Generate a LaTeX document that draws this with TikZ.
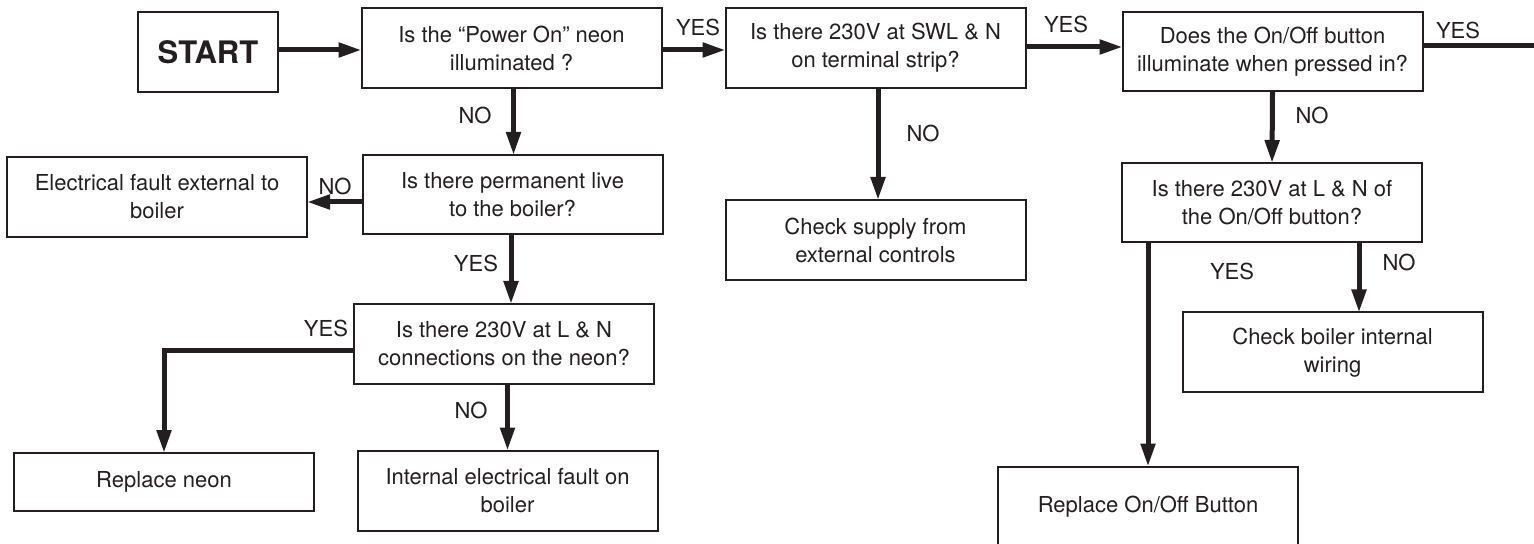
\documentclass[tikz,border=0pt]{standalone}
\usepackage{fontspec}
\setmainfont{TeX Gyre Heros}
\usetikzlibrary{arrows.meta,calc}
\definecolor{ink}{RGB}{35,31,32}
\begin{document}
\begin{tikzpicture}[x=0.5pt,y=-0.5pt,
  box/.style={draw=ink, line width=1pt, inner sep=0pt, outer sep=0pt,
    minimum width=150pt, minimum height=40pt, align=center, text=ink,
    font=\fontsize{11}{14}\selectfont},
  conn/.style={draw=ink, line width=2.5pt, -{Triangle[length=11.5pt,width=7pt]}},
  plainline/.style={draw=ink, line width=2.5pt},
  lbl/.style={text=ink, font=\fontsize{11}{14}\selectfont, inner sep=0pt}]
\useasboundingbox (0,0) rectangle (1534,544);

% boxes
\node[box, line width=1.2pt, minimum width=70pt, font=\bfseries\fontsize{15.5}{18}\selectfont] (start) at (208,52) {START};
\node[box] (q1) at (511.5,48) {Is the “Power On” neon\\illuminated ?};
\node[box] (q2) at (875.5,48) {Is there 230V at SWL \& N\\on terminal strip?};
\node[box, minimum height=39.5pt] (q5) at (1272.5,51.5) {Does the On/Off button\\illuminate when pressed in?};
\node[box, minimum height=39.5pt] (q3) at (512.5,194.5) {Is there permanent live\\to the boiler?};
\node[box] (ef) at (157,197) {Electrical fault external to\\boiler};
\node[box] (q4) at (504,344) {Is there 230V at L \& N\\connections on the neon?};
\node[box, minimum height=29pt] (rn) at (164,482) {Replace neon};
\node[box] (ie) at (507.5,490.5) {Internal electrical fault on\\boiler};
\node[box] (cs) at (875.5,240) {Check supply from\\external controls};
\node[box, minimum height=39.5pt] (q6) at (1272,202.5) {Is there 230V at L \& N of\\the On/Off button?};
\node[box] (cb) at (1332.5,352.5) {Check boiler internal\\wiring};
\node[box] (ro) at (1148,506.5) {Replace On/Off Button};
\coordinate (edge) at (1540,46);

% connectors
\draw[conn] (start.east) ++(0,-2) coordinate (a1) -- (a1 -| q1.west);
\draw[conn] (q1.east) ++(0,2) coordinate (a2) -- (a2 -| q2.west);
\draw[conn] (q2.east) ++(0,-1) coordinate (a3) -- (a3 -| q5.west);
\draw[plainline] (q5.east |- edge) -- (edge);
\draw[conn] (q1.south) ++(2,0) coordinate (a5) -- (a5 |- q3.north);
\draw[conn] (q3.west) ++(0,7.5) coordinate (a6) -- (a6 -| ef.east);
\draw[conn] (q3.south) ++(-1.5,0) coordinate (a7) -- (a7 |- q4.north);
\draw[conn] (q4.west) ++(0,7) coordinate (a8) -| (rn.north);
\draw[conn] (ie.north |- q4.south) -- (ie.north);
\draw[conn] (q2.south) ++(2.5,0) coordinate (a10) -- (a10 |- cs.north);
\draw[conn] (q5.south) -- (q6.north);
\draw[conn] (ro.north |- q6.south) -- (ro.north);
\draw[conn] (q6.south) ++(87,0) coordinate (a13) -- (a13 |- cb.north);

% labels
\node[lbl] (l1) at (698,27) {YES};
\node[lbl] (l2) at (1066,24) {YES};
\node[lbl] (l3) at (1458,30) {YES};
\node[lbl] (l4) at (475,115) {NO};
\node[lbl] (l5) at (335,186) {NO};
\node[lbl] (l6) at (476,263) {YES};
\node[lbl] (l7) at (326,328) {YES};
\node[lbl] (l8) at (471,410) {NO};
\node[lbl] (l9) at (923,133) {NO};
\node[lbl] (l10) at (1312,115) {NO};
\node[lbl] (l11) at (1232,271) {YES};
\node[lbl] (l12) at (1399,262) {NO};
\end{tikzpicture}
\end{document}
